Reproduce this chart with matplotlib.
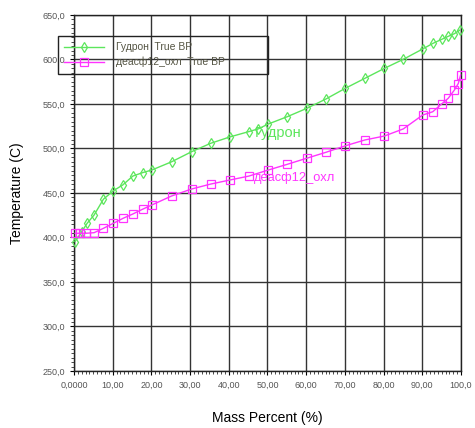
import matplotlib
matplotlib.use("Agg")
import matplotlib.pyplot as plt
from matplotlib.ticker import MultipleLocator

plt.rcParams['font.family'] = ['Liberation Sans', 'DejaVu Sans']

gudron_x = [0.26, 2.0, 3.4, 5.2, 7.6, 10.2, 12.6, 15.2, 17.7, 20.1, 25.2, 30.4, 35.3, 40.3, 45.2, 47.6,
            50.2, 55.1, 60.1, 65.1, 70.1, 75.2, 80.2, 85.1, 90.1, 92.7, 95.0, 96.7, 98.3, 99.7]
gudron_t = [395.3, 406.5, 416.0, 425.3, 443.0, 452.6, 459.0, 469.0, 472.8, 475.8, 485.0, 496.4, 505.8, 513.0, 519.0, 522.0,
            527.5, 535.7, 545.0, 555.6, 567.6, 578.9, 590.0, 600.2, 611.8, 618.0, 622.6, 626.0, 629.0, 633.0]

deasf_x = [0.3, 1.5, 3.0, 5.2, 7.6, 10.2, 12.7, 15.2, 17.7, 20.1, 25.2, 30.4, 35.3, 40.3, 45.2, 50.2,
           55.1, 60.1, 65.1, 70.1, 75.2, 80.2, 85.1, 90.1, 92.7, 95.0, 96.7, 98.3, 99.3, 99.9]
deasf_t = [404.7, 404.7, 404.7, 405.4, 410.3, 416.0, 421.6, 426.4, 431.7, 436.5, 446.6, 454.5, 460.0, 464.6, 469.0, 475.8,
           482.2, 489.0, 495.7, 503.0, 509.6, 514.0, 522.0, 537.6, 541.3, 550.0, 556.4, 565.7, 573.0, 582.6]

x_ticks = [0, 10, 20, 30, 40, 50, 60, 70, 80, 90, 100]
x_labels = ["0,0000", "10,00", "20,00", "30,00", "40,00", "50,00", "60,00", "70,00", "80,00", "90,00", "100,0"]
y_ticks = [250, 300, 350, 400, 450, 500, 550, 600, 650]
y_labels = ["250,0", "300,0", "350,0", "400,0", "450,0", "500,0", "550,0", "600,0", "650,0"]

green = "#5ce65c"
magenta = "#ff33ff"

fig = plt.figure(figsize=(4.75, 4.28), dpi=100)
ax = fig.add_axes([0.1558, 0.1332, 0.8147, 0.8318])

ax.plot(gudron_x, gudron_t, color=green, lw=1.0, marker='d', ms=5.5, mfc='none', mew=0.9,
        label="Гудрон  True BP", zorder=3, clip_on=False)
ax.plot(deasf_x, deasf_t, color=magenta, lw=1.0, marker='s', ms=5.5, mfc='none', mew=0.9,
        label="деасф12_охл  True BP", zorder=3, clip_on=False)

ax.text(46.6, 517, "Гудрон", color=green, fontsize=10.5, va='center', ha='left')
ax.text(46.6, 466.5, "деасф12_охл", color=magenta, fontsize=9.3, va='center', ha='left')

ax.set_xlim(0, 100)
ax.set_ylim(250, 650)
ax.set_xticks(x_ticks)
ax.set_xticklabels(x_labels)
ax.set_yticks(y_ticks)
ax.set_yticklabels(y_labels)
ax.xaxis.set_minor_locator(MultipleLocator(1))
ax.yaxis.set_minor_locator(MultipleLocator(5))
ax.tick_params(axis='both', which='major', labelsize=6.5, labelcolor='#555555', length=3, width=0.8, direction='out')
ax.tick_params(axis='both', which='minor', length=2, width=0.5, direction='out')
ax.tick_params(axis='x', pad=4)

ax.grid(True, which='major', color='#333333', lw=1.0)
ax.set_axisbelow(True)
for s in ax.spines.values():
    s.set_color('#222222')
    s.set_linewidth(1.0)

ax.set_xlabel("Mass Percent (%)", fontsize=10, labelpad=15)
ax.set_ylabel("Temperature (C)", fontsize=10, labelpad=13)

leg = ax.legend(loc='upper left', bbox_to_anchor=(-0.0413, 0.841, 0.5426, 0.1), mode='expand',
                fontsize=7.5, frameon=True,
                fancybox=False, edgecolor='#222222', framealpha=1.0, borderpad=0.6,
                handlelength=3.8, handletextpad=1.2, labelspacing=0.45, borderaxespad=0)
leg.get_frame().set_linewidth(1.0)
leg.get_frame().set_facecolor('none')
for t in leg.get_texts():
    t.set_color('#555544')

fig.savefig("out.png", dpi=100)
